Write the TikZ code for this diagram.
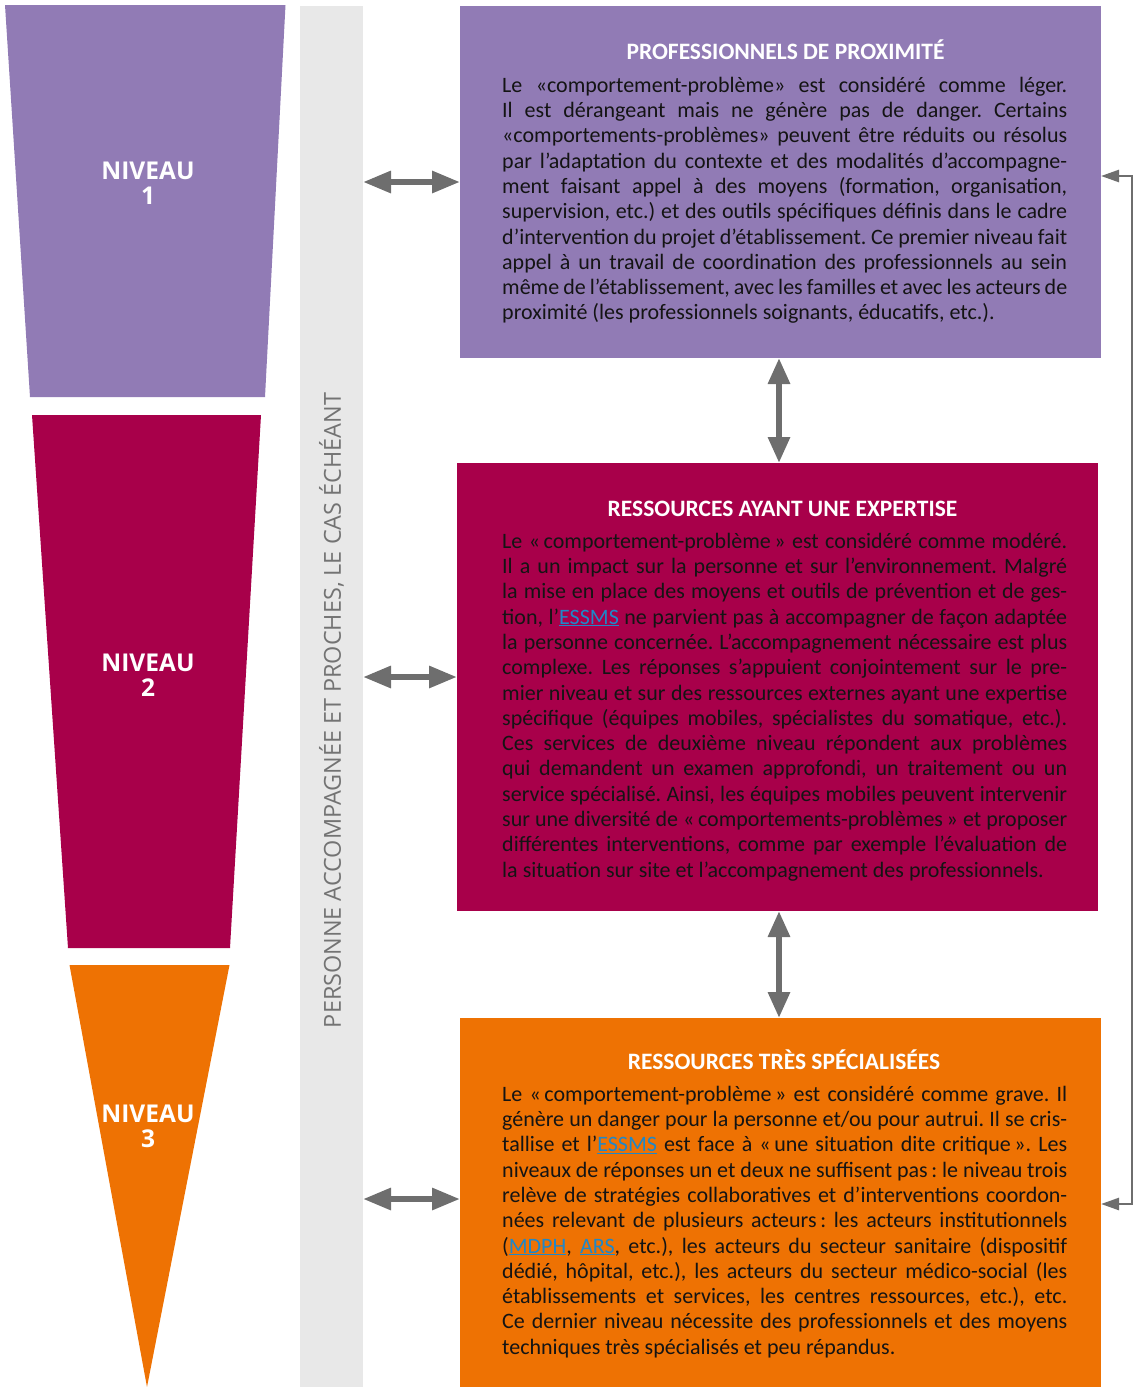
\documentclass[tikz,border=0pt]{standalone}
\usepackage{fontspec}
\setmainfont{Carlito}
\newfontfamily\osans{Open Sans}
\usetikzlibrary{arrows.meta}
\definecolor{lvpurple}{HTML}{917BB5}
\definecolor{lvcrimson}{HTML}{A8004A}
\definecolor{lvorange}{HTML}{EE7203}
\definecolor{arrowgray}{HTML}{6E6E6E}
\definecolor{bargray}{HTML}{E8E8E8}
\definecolor{bartext}{HTML}{737373}
\definecolor{linkblue}{HTML}{1F87C8}
\definecolor{bodyblack}{HTML}{141414}
\newcommand\jln[1]{\hbox to 565pt{\rule{0pt}{17pt}#1}}
\newcommand\lln[1]{\hbox{\rule{0pt}{17pt}#1}}
\newcommand\lnk[1]{{\color{linkblue}\underline{#1}}}
\frenchspacing
\tikzset{
  panel/.style={anchor=north west, inner sep=0pt, outer sep=0pt, minimum width=641pt},
  paneltitle/.style={anchor=base, inner sep=0pt, text=white, font=\bfseries\fontsize{23.5}{23.5}\selectfont},
  panelbody/.style={anchor=north west, inner sep=0pt, text=bodyblack, font=\frenchspacing\fontsize{22}{25.3}\selectfont},
  niveau/.style={text=white, align=center, inner sep=0pt, font=\osans\bfseries\fontsize{24.5}{25}\selectfont},
  dblh/.style={arrowgray, line width=6pt, {Triangle[length=28pt,width=21pt]}-{Triangle[length=28pt,width=21pt]}},
  dblv/.style={arrowgray, line width=6pt, {Triangle[length=26pt,width=21pt]}-{Triangle[length=26pt,width=21pt]}},
  brk/.style={arrowgray, line width=2.5pt, {Triangle[length=18pt,width=12pt]}-{Triangle[length=18pt,width=12pt]}}
}
\begin{document}
\begin{tikzpicture}[x=1pt,y=-1pt]
\useasboundingbox (0,0) rectangle (1134,1387);
% level shapes
\fill[lvpurple] (5,5) -- (285.5,5) -- (265,397) -- (30,397) -- cycle;
\fill[lvcrimson] (32,415) -- (261,415) -- (230,948) -- (68,948) -- cycle;
\fill[lvorange] (69.5,965) -- (229.5,965) -- (147,1387) -- cycle;
\node[niveau] (n1) at (148,183.5) {NIVEAU\\1};
\node[niveau] (n2) at (148,675.5) {NIVEAU\\2};
\node[niveau] (n3) at (148,1126) {NIVEAU\\3};
% grey bar
\node[panel, fill=bargray, minimum width=63pt, minimum height=1381pt] (bar) at (300,6) {};
\node[rotate=90, inner sep=0pt, text=bartext, font=\osans\fontsize{23.4}{24}\selectfont] (lbl) at (331.5,710.5) {PERSONNE ACCOMPAGNÉE ET PROCHES, LE CAS ÉCHÉANT};
% panels
\node[panel, fill=lvpurple, minimum height=352pt] (b1) at (460,6) {};
\node[panel, fill=lvcrimson, minimum height=448pt] (b2) at (457,463) {};
\node[panel, fill=lvorange, minimum height=369pt] (b3) at (460,1018) {};
% panel 1 text
\node[paneltitle] (h1) at (785.5,59) {PROFESSIONNELS DE PROXIMITÉ};
\node[panelbody] (t1) at (502,75) {\vbox{%
\jln{Le «comportement-problème» est considéré comme léger.}
\jln{Il est dérangeant mais ne génère pas de danger. Certains}
\jln{«comportements-problèmes» peuvent être réduits ou résolus}
\jln{par l’adaptation du contexte et des modalités d’accompagne-}
\jln{ment faisant appel à des moyens (formation, organisation,}
\jln{supervision, etc.) et des outils spécifiques définis dans le cadre}
\jln{d’intervention du projet d’établissement. Ce premier niveau fait}
\jln{appel à un travail de coordination des professionnels au sein}
\jln{même de l’établissement, avec les familles et avec les acteurs de}
\lln{proximité (les professionnels soignants, éducatifs, etc.).}}};
% panel 2 text
\node[paneltitle] (h2) at (782.5,516) {RESSOURCES AYANT UNE EXPERTISE};
\node[panelbody] (t2) at (502,531) {\vbox{%
\jln{Le «\,comportement-problème\,» est considéré comme modéré.}
\jln{Il a un impact sur la personne et sur l’environnement. Malgré}
\jln{la mise en place des moyens et outils de prévention et de ges-}
\jln{tion, l’\lnk{ESSMS} ne parvient pas à accompagner de façon adaptée}
\jln{la personne concernée. L’accompagnement nécessaire est plus}
\jln{complexe. Les réponses s’appuient conjointement sur le pre-}
\jln{mier niveau et sur des ressources externes ayant une expertise}
\jln{spécifique (équipes mobiles, spécialistes du somatique, etc.).}
\jln{Ces services de deuxième niveau répondent aux problèmes}
\jln{qui demandent un examen approfondi, un traitement ou un}
\jln{service spécialisé. Ainsi, les équipes mobiles peuvent intervenir}
\jln{sur une diversité de «\,comportements-problèmes\,» et proposer}
\jln{différentes interventions, comme par exemple l’évaluation de}
\lln{la situation sur site et l’accompagnement des professionnels.}}};
% panel 3 text
\node[paneltitle] (h3) at (784,1069) {RESSOURCES TRÈS SPÉCIALISÉES};
\node[panelbody] (t3) at (502,1084) {\vbox{%
\jln{Le «\,comportement-problème\,» est considéré comme grave. Il}
\jln{génère un danger pour la personne et/ou pour autrui. Il se cris-}
\jln{tallise et l’\lnk{ESSMS} est face à «\,une situation dite critique\,». Les}
\jln{niveaux de réponses un et deux ne suffisent pas\,: le niveau trois}
\jln{relève de stratégies collaboratives et d’interventions coordon-}
\jln{nées relevant de plusieurs acteurs\,: les acteurs institutionnels}
\jln{(\lnk{MDPH}, \lnk{ARS}, etc.), les acteurs du secteur sanitaire (dispositif}
\jln{dédié, hôpital, etc.), les acteurs du secteur médico-social (les}
\jln{établissements et services, les centres ressources, etc.), etc.}
\jln{Ce dernier niveau nécessite des professionnels et des moyens}
\lln{techniques très spécialisés et peu répandus.}}};
% connectors
\coordinate (a1) at (b1.west);
\coordinate (a2) at ([yshift=10pt]b2.west);
\coordinate (a3) at ([yshift=3.5pt]b3.west);
\draw[dblh] (bar.east |- a1) -- (a1);
\draw[dblh] (bar.east |- a2) -- (a2);
\draw[dblh] (bar.east |- a3) -- (a3);
\coordinate (v1) at ([xshift=-1.5pt]b1.south);
\coordinate (v2) at ([xshift=1.5pt]b2.south);
\draw[dblv] (v1) -- (v1 |- b2.north);
\draw[dblv] (v2) -- (v2 |- b3.north);
\draw[brk] ([yshift=6pt]b1.east) -- ++(31,0) |- ([yshift=-1.5pt]b3.east);
\end{tikzpicture}
\end{document}
